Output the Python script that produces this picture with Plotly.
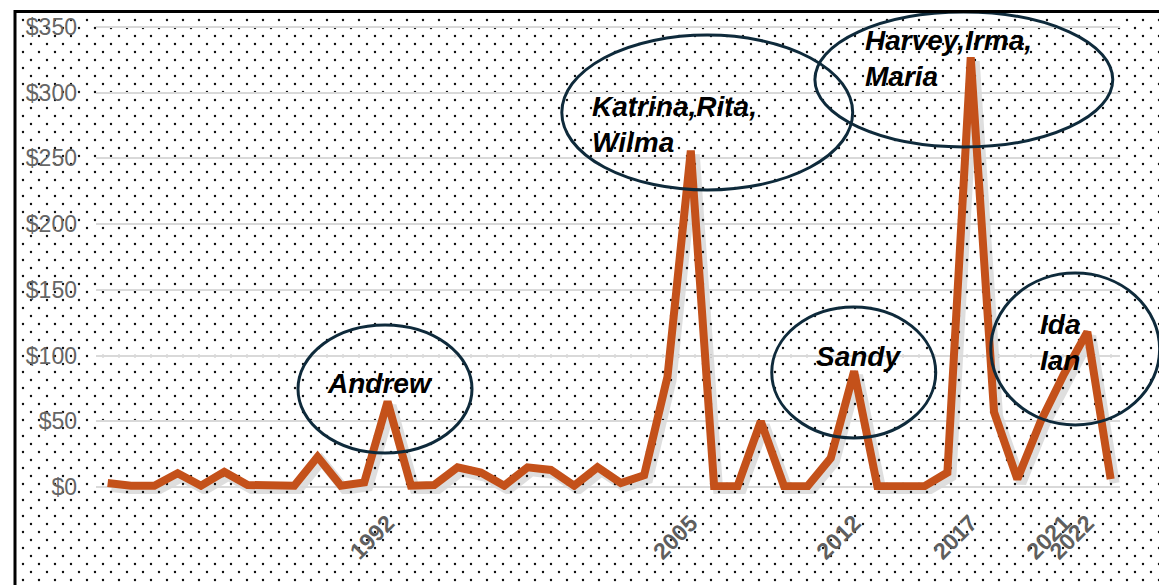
import plotly.graph_objects as go

# ---- data -------------------------------------------------------------
years = list(range(1980, 2024))
damage = [3, 1, 1, 10.5, 1, 11.5, 1.5, 1, 1, 23, 1, 3.5, 65,
          1, 1.5, 15, 11, 1, 15, 13, 1, 15, 3, 9, 84, 256,
          0.5, 0.5, 50, 0.5, 0.5, 22, 88, 0.5, 0.5, 0.5, 11, 327,
          57, 6, 50, 86, 118, 6]

tick_years = [1992, 2005, 2012, 2017, 2021, 2022]
y_ticks = [0, 50, 100, 150, 200, 250, 300, 350]
y_tick_text = ["$" + str(v) for v in y_ticks]

# storm call-outs: label text, label anchor (year, value), horizontal anchor
callout_text = ["Andrew", "Katrina,Rita,<br>Wilma", "Harvey,Irma,<br>Maria", "Sandy", "Ida<br>Ian"]
callout_year = [1991.67, 2000.67, 2012.37, 2012.2, 2019.87]
callout_value = [79, 275.5, 326, 99, 110]
callout_anchor = ["center", "left", "left", "center", "left"]

# ellipse extents in data units: (year0, year1, value0, value1)
ellipse_box = [
    (1988.16, 1995.62, 25.9, 123.3),
    (1999.47, 2011.94, 226.0, 343.9),
    (2010.32, 2023.09, 258.7, 361.4),
    (2008.47, 2015.50, 37.3, 137.0),
    (2017.86, 2025.10, 47.2, 162.8),
]

# ---- geometry ---------------------------------------------------------
FIG_W, FIG_H = 1159, 585
PLOT_L, PLOT_R, PLOT_T, PLOT_B = 96, 1120, 24, 490
X_RANGE = [1979.5, 2023.4]
Y_RANGE = [-2.28, 352.28]
SHADOW_DX, SHADOW_DY = 4, 4

LINE_COLOR = "#C4511A"
RING_COLOR = "#0E2A3B"
GRID_COLOR = "#D9D9D9"
TICK_COLOR = "#666666"


def fx(px):
    return px / FIG_W


def fy(py):
    return 1 - py / FIG_H


def year_to_paper(yr):
    px = PLOT_L + (yr - X_RANGE[0]) / (X_RANGE[1] - X_RANGE[0]) * (PLOT_R - PLOT_L)
    return fx(px)


def value_to_paper(v):
    py = PLOT_B - (v - Y_RANGE[0]) / (Y_RANGE[1] - Y_RANGE[0]) * (PLOT_B - PLOT_T)
    return fy(py)


fig = go.Figure()

# dotted background: two staggered dot lattices
dot_pattern = dict(shape=".", size=16, solidity=0.018, fgcolor="#111111",
                   bgcolor="rgba(0,0,0,0)")
for ax in ["", "2"]:
    fig.add_trace(go.Scatter(
        x=[0, 1, 1, 0, 0], y=[0, 0, 1, 1, 0], fill="toself", mode="none",
        fillcolor="rgba(0,0,0,0)", fillpattern=dot_pattern,
        hoverinfo="skip", showlegend=False,
        xaxis="x" + ax, yaxis="y" + ax))

# soft drop shadow under the damage line
fig.add_trace(go.Scatter(
    x=years, y=damage, mode="lines",
    line=dict(color="rgba(0,0,0,0.13)", width=10),
    hoverinfo="skip", showlegend=False, xaxis="x3", yaxis="y3"))

# damage line
fig.add_trace(go.Scatter(
    x=years, y=damage, mode="lines",
    line=dict(color=LINE_COLOR, width=8),
    showlegend=False, xaxis="x4", yaxis="y4"))

hidden = dict(visible=False, range=[0, 1], fixedrange=True, automargin=False)
main_x_dom = [fx(PLOT_L), fx(PLOT_R)]
main_y_dom = [fy(PLOT_B), fy(PLOT_T)]

fig.update_layout(
    template="none",
    width=FIG_W, height=FIG_H,
    margin=dict(l=0, r=0, t=0, b=0, pad=0, autoexpand=False),
    paper_bgcolor="white", plot_bgcolor="rgba(0,0,0,0)",
    font=dict(family="Arial", color=TICK_COLOR),
    xaxis=dict(hidden, domain=[fx(15), 1]),
    yaxis=dict(hidden, domain=[0, fy(12)]),
    xaxis2=dict(hidden, domain=[fx(23), 1]),
    yaxis2=dict(hidden, domain=[0, fy(20)]),
    xaxis3=dict(visible=False, range=X_RANGE, automargin=False,
                domain=[fx(PLOT_L + SHADOW_DX), fx(PLOT_R + SHADOW_DX)]),
    yaxis3=dict(visible=False, range=Y_RANGE, automargin=False,
                domain=[fy(PLOT_B + SHADOW_DY), fy(PLOT_T + SHADOW_DY)]),
    xaxis4=dict(range=X_RANGE, domain=main_x_dom, anchor="y4", automargin=False,
                showgrid=False, zeroline=False, showline=False, ticks="",
                tickmode="array", tickvals=tick_years,
                ticktext=[str(y) for y in tick_years],
                tickangle=-45, ticklabelstandoff=14,
                tickfont=dict(size=23, color="#5f5f5f", family="Arial",
                              weight="bold")),
    yaxis4=dict(range=Y_RANGE, domain=main_y_dom, anchor="x4", automargin=False,
                showgrid=True, gridcolor=GRID_COLOR, gridwidth=2,
                zeroline=True, zerolinecolor=GRID_COLOR, zerolinewidth=2,
                showline=False, ticks="",
                tickmode="array", tickvals=y_ticks, ticktext=y_tick_text,
                ticklabelstandoff=18,
                tickfont=dict(size=23, color=TICK_COLOR, family="Arial")),
)

# storm labels
for txt, yr, val, anc in zip(callout_text, callout_year, callout_value, callout_anchor):
    fig.add_annotation(
        x=yr, y=val, xref="x4", yref="y4", text=txt, showarrow=False,
        xanchor=anc, yanchor="middle", align="left",
        font=dict(family="Arial", size=28, color="black",
                  weight="bold", style="italic"))

# rings around the storm peaks
for (y0, y1, v0, v1) in ellipse_box:
    fig.add_shape(type="circle", xref="paper", yref="paper",
                  x0=year_to_paper(y0), x1=year_to_paper(y1),
                  y0=value_to_paper(v0), y1=value_to_paper(v1),
                  line=dict(color=RING_COLOR, width=3), layer="above")

# outer frame
fig.add_shape(type="rect", xref="paper", yref="paper",
              x0=fx(15), x1=fx(FIG_W + 10), y0=fy(FIG_H + 10), y1=fy(11.5),
              line=dict(color="black", width=3), layer="above")

fig.write_html("out.html")
